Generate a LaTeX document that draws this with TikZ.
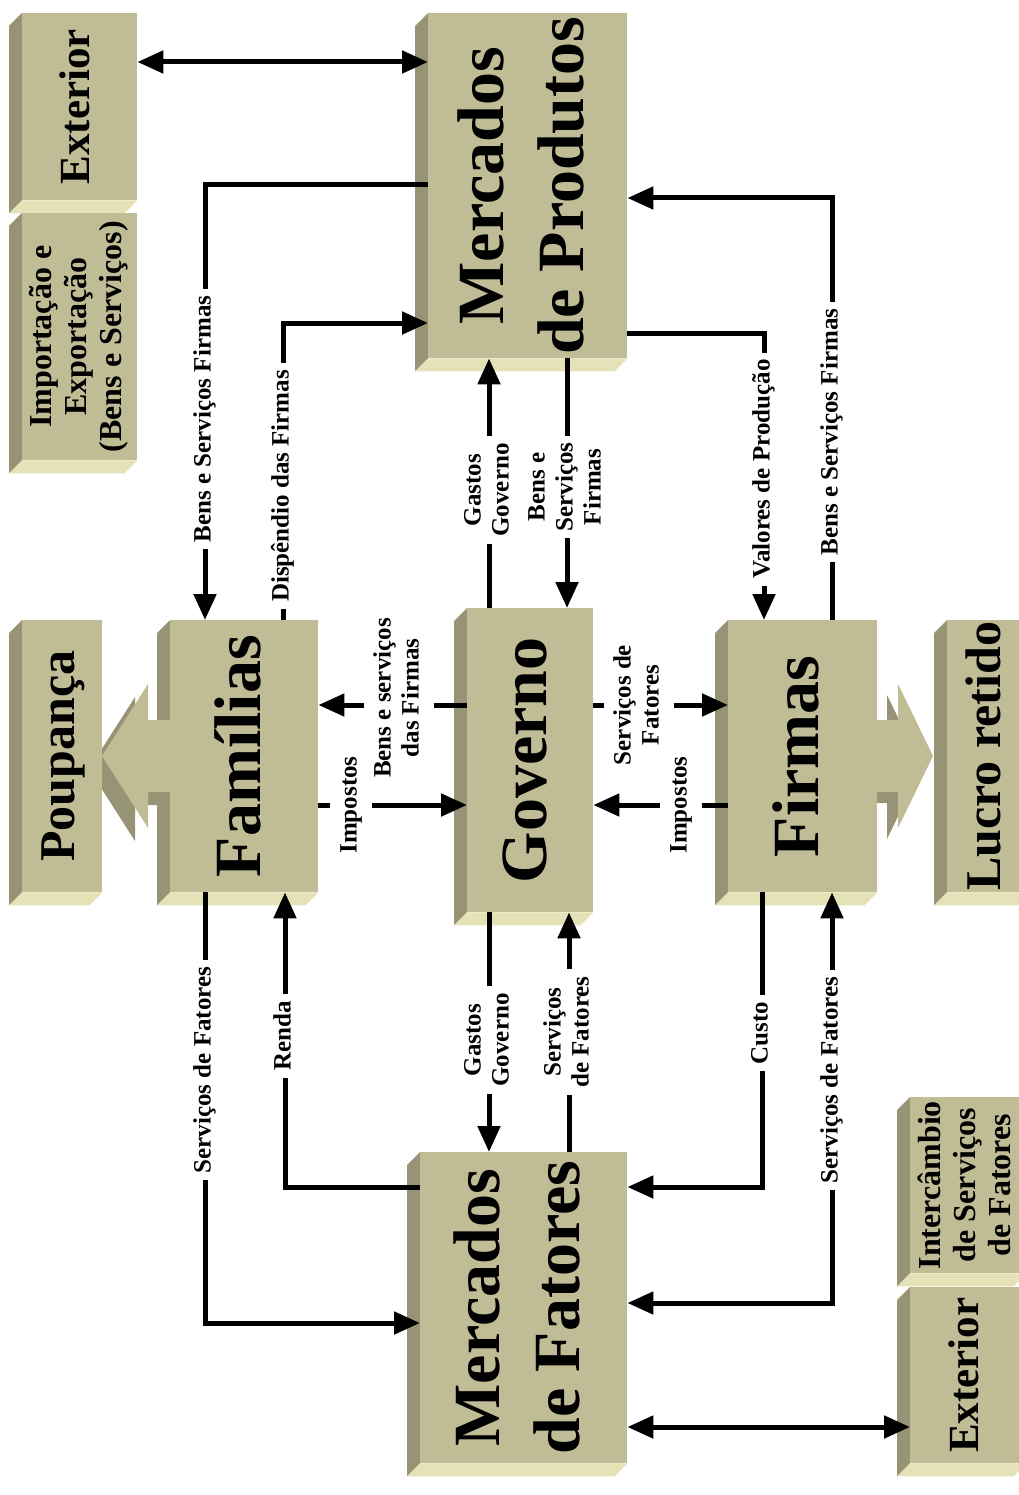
\documentclass[tikz,border=0pt]{standalone}
\usepackage{fontspec}
\setmainfont{Liberation Serif}
\usepackage{graphicx}
\definecolor{boxFace}{RGB}{192,189,150}
\definecolor{boxSide}{RGB}{150,148,116}
\definecolor{boxBase}{RGB}{228,226,182}
\usetikzlibrary{
    arrows.meta,
    calc
}
\pgfdeclarelayer{background}
\pgfdeclarelayer{foreground}
\pgfsetlayers{background,main,foreground}
\newcommand{\uptext}[1]{\rotatebox{90}{\begin{tabular}{@{}c@{}}#1\end{tabular}}}
\tikzset{
    box/.style={
        anchor=north west,
        inner sep=0pt,
        fill=boxFace,
    },
    dims/.style 2 args={
        minimum width=#1pt,
        minimum height=#2pt,
    },
    bigname/.style={font=\fontsize{66}{80}\selectfont\bfseries},
    midname/.style={font=\fontsize{50}{60}\selectfont\bfseries},
    smallname/.style={font=\fontsize{43}{50}\selectfont\bfseries},
    tinyname/.style={font=\fontsize{32}{35}\selectfont\bfseries},
    vlabel/.style={
        fill=white,
        inner xsep=1pt,
        inner ysep=7pt,
        font=\fontsize{25}{28}\selectfont\bfseries,
    },
    hlabel/.style={
        fill=white,
        inner xsep=7pt,
        inner ysep=1pt,
        font=\fontsize{25}{28}\selectfont\bfseries,
    },
    flow/.style={
        line width=5pt,
        -{Triangle[length=26pt,width=22pt]}
    },
    dflow/.style={
        line width=5pt,
        {Triangle[length=26pt,width=22pt]}-{Triangle[length=26pt,width=22pt]}
    },
}

\begin{document}
\begin{tikzpicture}[x=1pt, y=-1pt]
    \useasboundingbox (0,0) rectangle (1018,1495);

    \begin{pgfonlayer}{foreground}
        \node[vlabel] (bsfA) at (205,419) {\uptext{Bens e Serviços Firmas}};
        \node[vlabel] (dispF) at (283,486) {\uptext{Dispêndio das Firmas}};
        \node[vlabel] (gastA) at (489,490) {\uptext{Gastos\\Governo}};
        \node[vlabel] (bsfB) at (567,487) {\uptext{Bens e\\Serviços\\Firmas}};
        \node[vlabel] (valP) at (764,469) {\uptext{Valores de Produção}};
        \node[vlabel] (bsfC) at (832,432) {\uptext{Bens e Serviços Firmas}};
        \node[hlabel] (bsdF) at (399,698) {\uptext{Bens e serviços\\das Firmas}};
        \node[hlabel] (impA) at (351,805) {\uptext{Impostos}};
        \node[hlabel] (sfA) at (639,705) {\uptext{Serviços de\\Fatores}};
        \node[hlabel] (impB) at (681,805) {\uptext{Impostos}};
        \node[vlabel] (sfB) at (205,1070) {\uptext{Serviços de Fatores}};
        \node[vlabel] (renda) at (285,1036) {\uptext{Renda}};
        \node[vlabel] (gastB) at (489,1040) {\uptext{Gastos\\Governo}};
        \node[vlabel] (sfC) at (569,1032) {\uptext{Serviços\\de Fatores}};
        \node[vlabel] (custo) at (762,1033) {\uptext{Custo}};
        \node[vlabel] (sfD) at (832,1080) {\uptext{Serviços de Fatores}};
    \end{pgfonlayer}

    \node[box, dims={115}{187}, smallname] (extA) at (22,13) {\uptext{Exterior}};
    \node[box, dims={115}{247}, tinyname] (impexp) at (22,213) {\uptext{Importação e\\Exportação\\(Bens e Serviços)}};
    \node[box, dims={199}{345}, bigname] (mp) at (428,13) {\uptext{Mercados\\de Produtos}};
    \node[box, dims={80}{272}, midname] (poup) at (22,620) {\uptext{Poupança}};
    \node[box, dims={148}{272}, bigname] (fam) at (170,620) {\uptext{Famílias}};
    \node[box, dims={126}{304}, bigname] (gov) at (467,608) {\uptext{Governo}};
    \node[box, dims={149}{272}, bigname] (firm) at (728,620) {\uptext{Firmas}};
    \node[box, dims={83}{272}, midname] (lucro) at (947,620) {\uptext{Lucro retido}};
    \node[box, dims={207}{311}, bigname] (mf) at (420,1152) {\uptext{Mercados\\de Fatores}};
    \node[box, dims={116}{176}, tinyname] (interc) at (910,1097) {\uptext{Intercâmbio\\de Serviços\\de Fatores}};
    \node[box, dims={116}{176}, smallname] (extB) at (910,1287) {\uptext{Exterior}};

    \begin{pgfonlayer}{background}
        \foreach \boxname in {extA,impexp,mp,poup,fam,gov,firm,lucro,mf,interc,extB} {
            \fill[boxSide] (\boxname.north west) -- ++(-13,13) -- ($(\boxname.south west)+(-13,13)$) -- (\boxname.south west) -- cycle;
            \fill[boxBase] (\boxname.south west) -- ++(-13,13) -- ($(\boxname.south east)+(-13,13)$) -- (\boxname.south east) -- cycle;
        }
        % poupanca / lucro retido
        \fill[boxSide, shift={(-13,13)}] (172,720) -- (148,720) -- (148,684) -- (102,756) -- (148,828) -- (148,792) -- (172,792) -- cycle;
        \fill[boxFace] (172,720) -- (148,720) -- (148,684) -- (102,756) -- (148,828) -- (148,792) -- (172,792) -- cycle;
        \fill[boxSide, shift={(-11,11)}] (877,720) -- (898,720) -- (898,684) -- (933,756) -- (898,828) -- (898,792) -- (877,792) -- cycle;
        \fill[boxFace] (877,720) -- (898,720) -- (898,684) -- (933,756) -- (898,828) -- (898,792) -- (877,792) -- cycle;
    \end{pgfonlayer}

    \draw[dflow] (extA.east |- 0,62) -- (mp.west |- 0,62);
    \draw[flow] (mp.west |- 0,185) -| (fam.north -| bsfA);
    \draw[flow] (fam.north -| dispF) |- (mp.west |- 0,323);
    \draw[flow] (gov.north -| gastA) -- (mp.south -| gastA);
    \draw[flow] (mp.south -| bsfB) -- (gov.north -| bsfB);
    \draw[flow] (mp.east |- 0,333) -| (firm.north -| valP);
    \draw[flow] (firm.north -| bsfC) |- (mp.east |- 0,198);

    \draw[flow] (gov.west |- 0,705) -- (fam.east |- 0,705);
    \draw[flow] (fam.east |- impA) -- (gov.west |- impA);
    \draw[flow] (gov.east |- sfA) -- (firm.west |- sfA);
    \draw[flow] (firm.west |- impB) -- (gov.east |- impB);

    \draw[flow] (fam.south -| sfB) |- (mf.west |- 0,1323);
    \draw[flow] (mf.west |- 0,1187) -| (fam.south -| renda);
    \draw[flow] (gov.south -| gastB) -- (mf.north -| gastB);
    \draw[flow] (mf.north -| sfC) -- (gov.south -| sfC);
    \draw[flow] (firm.south -| custo) |- (mf.east |- 0,1187);
    \draw[dflow] (firm.south -| sfD) |- (mf.east |- 0,1303);
    \draw[dflow] (mf.east |- 0,1427) -- (extB.west |- 0,1427);
\end{tikzpicture}
\end{document}
